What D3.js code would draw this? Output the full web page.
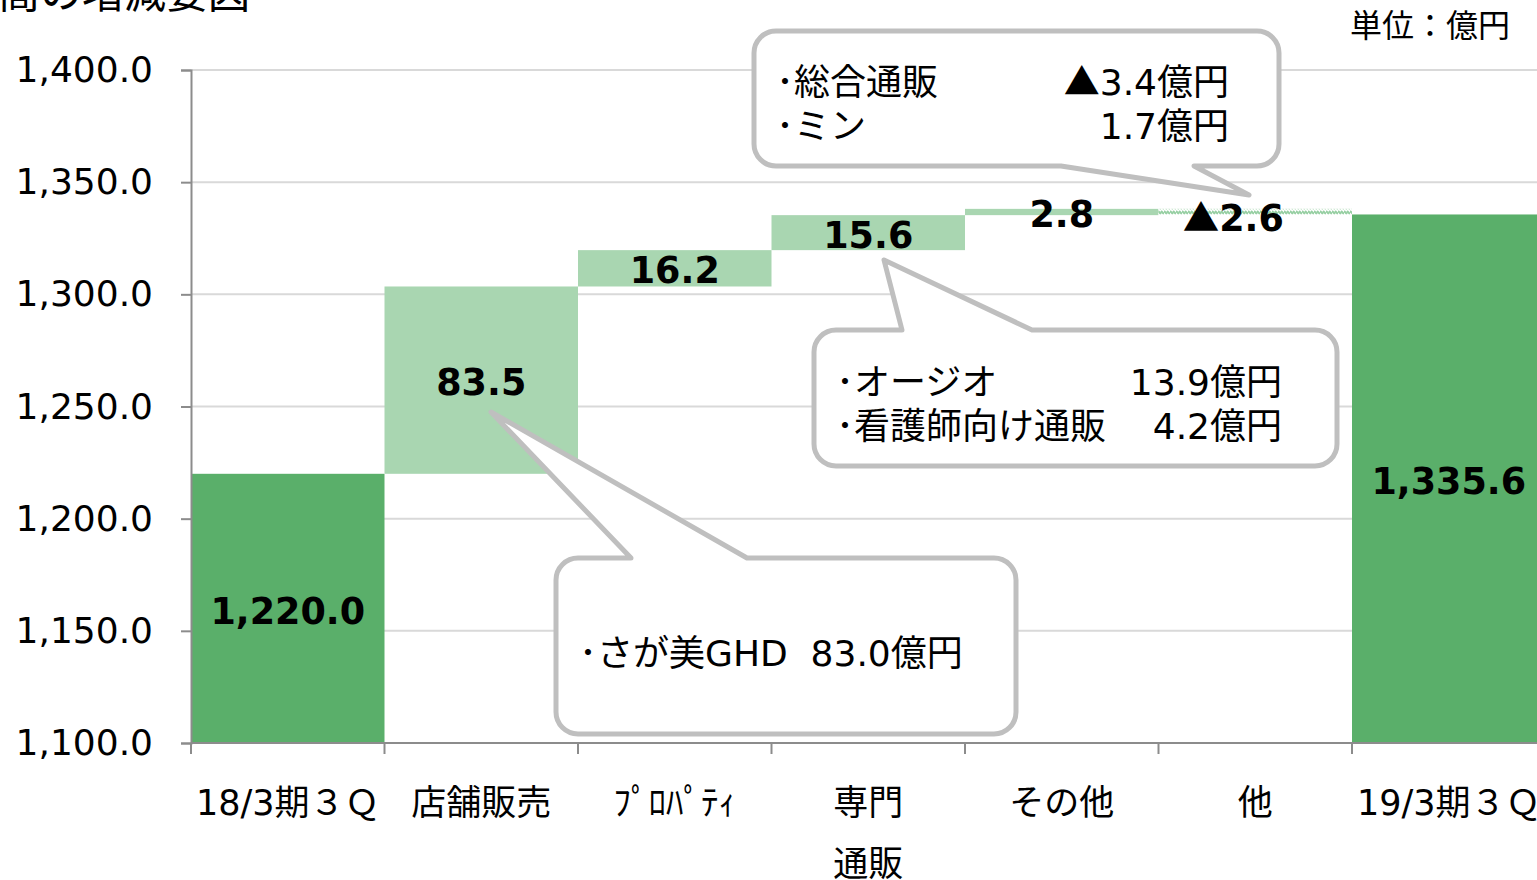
<!DOCTYPE html>
<html>
<head>
<meta charset="utf-8">
<script src="https://cdn.jsdelivr.net/npm/d3@7"></script>
<style>
  body { margin: 0; background: #fff; overflow: hidden; }
  svg { display: block; font-family: "DejaVu Sans", "Noto Sans CJK JP", sans-serif; }
  text { white-space: pre; }
</style>
</head>
<body>
<svg id="chart" width="1537" height="880"></svg>
<script>
// chart data
const categories = ['18/3期３Ｑ', '店舗販売', 'ﾌﾟﾛﾊﾟﾃｨ', '専門通販', 'その他', '他', '19/3期３Ｑ'];
const categoryLines = [['18/3期３Ｑ'], ['店舗販売'], ['ﾌﾟﾛﾊﾟﾃｨ'], ['専門', '通販'], ['その他'], ['他'], ['19/3期３Ｑ']];
const values = [1220.0, 83.5, 16.2, 15.6, 2.8, -2.6, 1335.6];
const isTotal = [true, false, false, false, false, false, true];
const valueLabels = ['1,220.0', '83.5', '16.2', '15.6', '2.8', '▲2.6', '1,335.6'];
const yTicks = [1100, 1150, 1200, 1250, 1300, 1350, 1400];

// callout texts
const notesGeneral = [['･総合通販', '▲3.4億円'], ['･ミン', '1.7億円']];
const notesSenmon = [['･オージオ', '13.9億円'], ['･看護師向け通販', '4.2億円']];
const notesStore = ['･さが美GHD  83.0億円'];

const cjk = '"Noto Sans CJK JP", sans-serif';

const svg = d3.select('#chart');

const x = d3.scaleBand()
  .domain(categories)
  .range([191, 191 + 7 * 193.5])
  .padding(0);

const y = d3.scaleLinear()
  .domain([1100, 1400])
  .range([743, 70]);

// running totals for the waterfall
let running = 0;
const bars = values.map((v, i) => {
  let lo, hi;
  if (isTotal[i]) {
    lo = 1100; hi = v; running = v;
  } else {
    const before = running;
    running = running + v;
    lo = Math.min(before, running);
    hi = Math.max(before, running);
  }
  return { cat: categories[i], lo: lo, hi: hi, v: v, total: isTotal[i], label: valueLabels[i] };
});

// writes a string into a text node, the ▲ mark goes in the CJK face
function fillText(sel, str) {
  if (str.startsWith('▲')) {
    sel.append('tspan').attr('font-family', cjk).text('▲');
    sel.append('tspan').text(str.slice(1));
  } else {
    sel.text(str);
  }
}

// hatch for the negative step
const defs = svg.append('defs');
const pat = defs.append('pattern')
  .attr('id', 'hatch')
  .attr('patternUnits', 'userSpaceOnUse')
  .attr('width', 6)
  .attr('height', 5);
pat.append('rect').attr('width', 6).attr('height', 5).attr('fill', '#fff');
pat.append('path')
  .attr('d', 'M0,1 L3,4 M3,1 L6,4')
  .attr('stroke', '#96CFA2')
  .attr('stroke-width', 2);

// title (cut off at the top)
svg.append('text')
  .attr('x', 250)
  .attr('y', 8)
  .attr('text-anchor', 'end')
  .attr('font-size', 42)
  .text('売上高の増減要因');

svg.append('text')
  .attr('x', 1510)
  .attr('y', 37)
  .attr('text-anchor', 'end')
  .attr('font-size', 32)
  .text('単位：億円');

// gridlines
svg.append('g')
  .selectAll('line')
  .data(yTicks.slice(1))
  .join('line')
  .attr('x1', 191)
  .attr('x2', x.range()[1])
  .attr('y1', d => y(d))
  .attr('y2', d => y(d))
  .attr('stroke', '#D9D9D9')
  .attr('stroke-width', 2);

// bars
svg.append('g')
  .selectAll('rect')
  .data(bars)
  .join('rect')
  .attr('x', d => x(d.cat))
  .attr('width', x.bandwidth())
  .attr('y', d => y(d.hi))
  .attr('height', d => y(d.lo) - y(d.hi))
  .attr('fill', d => d.total ? '#5AAF6A' : (d.v < 0 ? 'url(#hatch)' : '#A9D6B1'));

// y axis
const yAxis = svg.append('g')
  .attr('transform', 'translate(191,0)')
  .call(d3.axisLeft(y).tickValues(yTicks).tickFormat(d3.format(',.1f')).tickSize(10).tickPadding(28));
yAxis.select('.domain').attr('stroke', '#8C8C8C').attr('stroke-width', 2);
yAxis.selectAll('.tick line').attr('stroke', '#8C8C8C').attr('stroke-width', 2);
yAxis.selectAll('.tick text')
  .attr('font-size', 36)
  .attr('font-family', '"DejaVu Sans", sans-serif')
  .attr('fill', '#000');

// x axis line + ticks at band edges
const xAxis = svg.append('g');
xAxis.append('line')
  .attr('x1', 191)
  .attr('x2', x.range()[1])
  .attr('y1', y(1100))
  .attr('y2', y(1100))
  .attr('stroke', '#8C8C8C')
  .attr('stroke-width', 2);
xAxis.selectAll('.xtick')
  .data(categories.map(c => x(c)).concat([x.range()[1]]))
  .join('line')
  .attr('class', 'xtick')
  .attr('x1', d => d)
  .attr('x2', d => d)
  .attr('y1', y(1100))
  .attr('y2', y(1100) + 11)
  .attr('stroke', '#8C8C8C')
  .attr('stroke-width', 2);

const xl = xAxis.selectAll('.xlabel')
  .data(categories)
  .join('text')
  .attr('class', 'xlabel')
  .attr('text-anchor', 'middle')
  .attr('font-size', 35)
  .attr('fill', '#000');
xl.selectAll('tspan')
  .data((d, i) => categoryLines[i].map(t => ({ t: t, c: d })))
  .join('tspan')
  .attr('x', d => x(d.c) + x.bandwidth() / 2)
  .attr('y', (d, j) => 815 + j * 61)
  .text(d => d.t);

// value labels
svg.append('g')
  .selectAll('text')
  .data(bars)
  .join('text')
  .attr('x', d => x(d.cat) + x.bandwidth() / 2 + (d.v < 0 ? -22 : 0))
  .attr('y', d => (y(d.lo) + y(d.hi)) / 2 + (d.v < 0 ? 6 : 2))
  .attr('dy', '0.36em')
  .attr('text-anchor', 'middle')
  .attr('font-size', 36.5)
  .attr('font-weight', 'bold')
  .attr('fill', '#000')
  .each(function (d) { fillText(d3.select(this), d.label); });

// callout shape: rounded box with a pointer tail
function callout(box, tail, side) {
  const r = 22;
  const { x0, y0, x1, y1 } = box;
  const p = d3.path();
  p.moveTo(x0 + r, y0);
  if (side === 'top') {
    p.lineTo(tail[0], y0);
    p.lineTo(tail[2][0], tail[2][1]);
    p.lineTo(tail[1], y0);
  }
  p.lineTo(x1 - r, y0);
  p.arcTo(x1, y0, x1, y0 + r, r);
  p.lineTo(x1, y1 - r);
  p.arcTo(x1, y1, x1 - r, y1, r);
  if (side === 'bottom') {
    p.lineTo(tail[1], y1);
    p.lineTo(tail[2][0], tail[2][1]);
    p.lineTo(tail[0], y1);
  }
  p.lineTo(x0 + r, y1);
  p.arcTo(x0, y1, x0, y1 - r, r);
  p.lineTo(x0, y0 + r);
  p.arcTo(x0, y0, x0 + r, y0, r);
  p.closePath();
  svg.append('path')
    .attr('d', p.toString())
    .attr('fill', '#fff')
    .attr('stroke', '#BFBFBF')
    .attr('stroke-width', 5)
    .attr('stroke-linejoin', 'round');
}

callout({ x0: 754, y0: 31, x1: 1279, y1: 166 }, [1061, 1194, [1249, 195]], 'bottom');
callout({ x0: 814, y0: 330, x1: 1337, y1: 466 }, [902, 1032, [884, 260]], 'top');
callout({ x0: 556, y0: 558, x1: 1016, y1: 734 }, [631, 747, [491, 412]], 'top');

function noteRows(rows, xl, xr, y0, gap) {
  const g = svg.append('g').attr('font-size', 36).attr('fill', '#000');
  g.selectAll('.nl').data(rows).join('text')
    .attr('x', xl).attr('y', (d, i) => y0 + i * gap)
    .text(d => d[0]);
  g.selectAll('.nr').data(rows).join('text')
    .attr('x', xr).attr('y', (d, i) => y0 + i * gap)
    .attr('text-anchor', 'end')
    .each(function (d) { fillText(d3.select(this), d[1]); });
}
noteRows(notesGeneral, 776, 1229, 95, 44);
noteRows(notesSenmon, 836, 1282, 395, 44);

svg.append('g').attr('font-size', 36).attr('fill', '#000')
  .selectAll('text').data(notesStore).join('text')
  .attr('x', 579).attr('y', 666)
  .text(d => d);
</script>
</body>
</html>
